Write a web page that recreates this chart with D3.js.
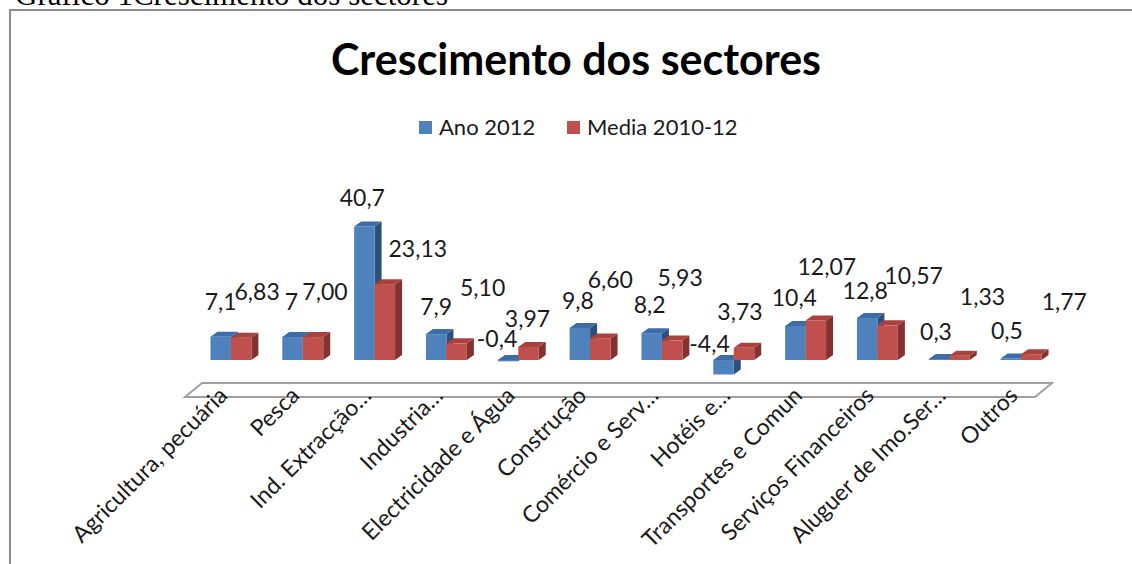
<!DOCTYPE html>
<html>
<head>
<meta charset="utf-8">
<script src="https://cdn.jsdelivr.net/npm/d3@7"></script>
<style>
  html, body { margin: 0; padding: 0; background: #fff; }
  svg { display: block; }
</style>
</head>
<body>
<svg id="chart" width="1132" height="564"></svg>
<script>
// Sector names as shown on the axis
const categories = [
  "Agricultura, pecuária", "Pesca", "Ind. Extracção…", "Industria…",
  "Electricidade e Água", "Construção", "Comércio e Serv…", "Hotéis e…",
  "Transportes e Comun", "Serviços Financeiros", "Aluguer de Imo.Ser…", "Outros"
];
const seriesNames = ["Ano 2012", "Media 2010-12"];
const ano2012 = [7.1, 7, 40.7, 7.9, -0.4, 9.8, 8.2, -4.4, 10.4, 12.8, 0.3, 0.5];
const media2010_12 = [6.83, 7.00, 23.13, 5.10, 3.97, 6.60, 5.93, 3.73, 12.07, 10.57, 1.33, 1.77];

// Small label nudges [dx, dy] so that the value labels do not collide
const labelShiftA = [[0,-7],[-1,-7],[-2,-1],[0,1],[-11,7],[-2,1],[-2,0],[-14,12],[-1,0],[-2,1],[-3,1],[-4,1]];
const labelShiftB = [[16,-18],[12,-17],[33,-7],[26,-27],[-1,0],[10,-30],[8,-35],[-4,-8],[11,-25],[26,-21],[23,-31],[33,-24]];

const colors = {
  front: ["#4f81bd", "#c0504d"],
  top:   ["#3d6ca7", "#a9423f"],
  side:  ["#2d4f7c", "#843230"]
};

const svg = d3.select("#chart");
const labelFont = "Lato, 'Open Sans', sans-serif";

// Outer frame and caption above it
svg.append("text")
  .attr("x", 15).attr("y", 5)
  .attr("font-family", "'Liberation Serif', 'Times New Roman', serif")
  .attr("font-size", 31)
  .attr("fill", "#000")
  .text("Gráfico 1Crescimento dos sectores");

svg.append("rect")
  .attr("x", 10).attr("y", 10)
  .attr("width", 1140).attr("height", 600)
  .attr("fill", "none")
  .attr("stroke", "#8c8c8c")
  .attr("stroke-width", 2);

// Chart title
svg.append("text")
  .attr("x", 576).attr("y", 75)
  .attr("text-anchor", "middle")
  .attr("font-family", labelFont)
  .attr("font-weight", "bold")
  .attr("font-size", 43)
  .attr("fill", "#000")
  .text("Crescimento dos sectores");

// Legend
const legend = svg.append("g").attr("font-family", labelFont).attr("font-size", 22);
const legendX = [419, 567];
seriesNames.forEach((name, i) => {
  legend.append("rect")
    .attr("x", legendX[i]).attr("y", 121)
    .attr("width", 13).attr("height", 13)
    .attr("fill", colors.front[i]);
  legend.append("text")
    .attr("x", legendX[i] + 20).attr("y", 135)
    .attr("fill", "#1a1a1a")
    .text(name);
});

// Scales
const x = d3.scaleBand()
  .domain(categories)
  .range([195, 1057])
  .paddingInner(0.43)
  .paddingOuter(0.215);

const xs = d3.scaleBand()
  .domain(seriesNames)
  .range([0, x.bandwidth()]);

const y = d3.scaleLinear()
  .domain([-7, 45])
  .range([383, 212.4]);

const depth = { dx: 7, dy: -5 };

// Floor of the 3D plot
const x0 = x.range()[0], x1 = x.range()[1];
const floorTop = y(-7), floorBottom = floorTop + 14;
const skew = 17;
svg.append("path")
  .attr("d", d3.line()([
    [x0 - 10, floorBottom],
    [x0 - 10 + skew, floorTop],
    [x1 - 22 + skew, floorTop],
    [x1 - 22, floorBottom]
  ]) + "Z")
  .attr("fill", "#fff")
  .attr("stroke", "#a0a0a0")
  .attr("stroke-width", 2);

// Category labels (rotated)
const axis = d3.axisBottom(x).tickSize(0).tickPadding(0);
const axisG = svg.append("g")
  .attr("transform", `translate(0, ${floorBottom})`)
  .call(axis);
axisG.select(".domain").remove();
axisG.selectAll("text")
  .attr("font-family", labelFont)
  .attr("font-size", 23)
  .attr("fill", "#1a1a1a")
  .attr("text-anchor", "end")
  .attr("dy", 0)
  .attr("transform", "translate(-2, 0) rotate(-45)");

// 3D bars
const series = [ano2012, media2010_12];
const bars = svg.append("g");
categories.forEach((cat, ci) => {
  series.forEach((vals, si) => {
    const v = vals[ci];
    const bx = x(cat) + xs(seriesNames[si]);
    const w = xs.bandwidth();
    const yt = y(Math.max(v, 0));
    const yb = y(Math.min(v, 0));
    const g = bars.append("g");
    g.append("path")
      .attr("d", d3.line()([[bx + w, yt], [bx + w + depth.dx, yt + depth.dy],
                            [bx + w + depth.dx, yb + depth.dy], [bx + w, yb]]) + "Z")
      .attr("fill", colors.side[si]);
    g.append("path")
      .attr("d", d3.line()([[bx, yt], [bx + depth.dx, yt + depth.dy],
                            [bx + w + depth.dx, yt + depth.dy], [bx + w, yt]]) + "Z")
      .attr("fill", colors.top[si]);
    g.append("rect")
      .attr("x", bx).attr("y", yt)
      .attr("width", w).attr("height", Math.max(yb - yt, 0))
      .attr("fill", colors.front[si]);
  });
});

// Value labels
const fmtA = v => String(v).replace(".", ",");
const fmtB = v => v.toFixed(2).replace(".", ",");
const labels = svg.append("g")
  .attr("font-family", labelFont)
  .attr("font-size", 23)
  .attr("fill", "#1a1a1a")
  .attr("text-anchor", "middle");
categories.forEach((cat, ci) => {
  [[ano2012, fmtA, labelShiftA], [media2010_12, fmtB, labelShiftB]].forEach(([vals, fmt, shift], si) => {
    const v = vals[ci];
    const cx = x(cat) + xs(seriesNames[si]) + xs.bandwidth() / 2;
    const cy = y(Math.max(v, 0)) - 20;
    labels.append("text")
      .attr("x", cx + shift[ci][0])
      .attr("y", cy + shift[ci][1])
      .text(fmt(v));
  });
});
</script>
</body>
</html>
